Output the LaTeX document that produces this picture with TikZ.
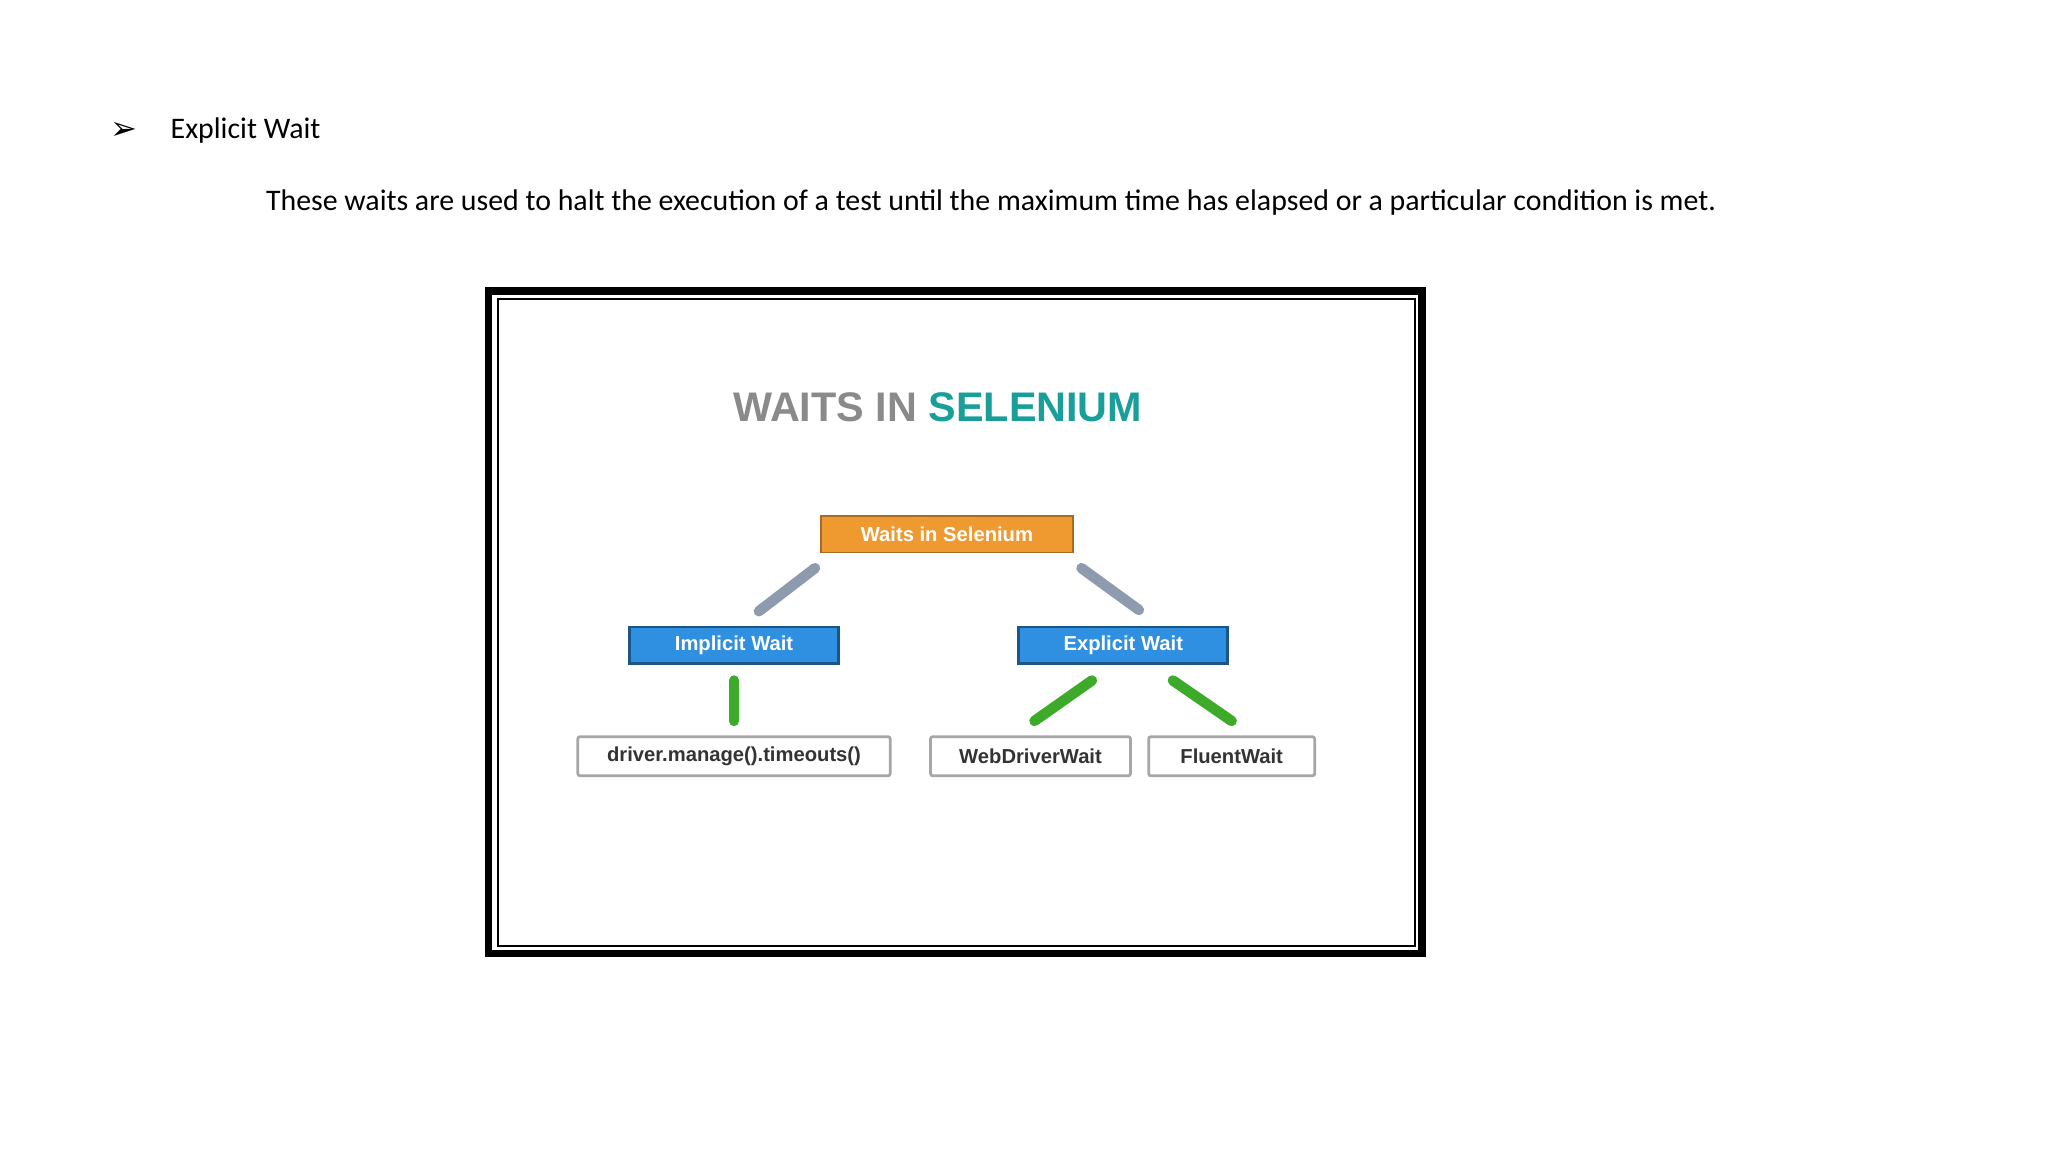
\documentclass[tikz,border=0pt]{standalone}
\usepackage{fontspec}
\setmainfont{Carlito}
\newfontfamily\dv{DejaVu Sans}
\newfontfamily\lsans{Liberation Sans}
\definecolor{teal1}{HTML}{1A9E9A}
\definecolor{grayt}{HTML}{8A8A8A}
\definecolor{orng}{HTML}{EE9A30}
\definecolor{blu}{HTML}{2F8FE0}
\definecolor{grn}{HTML}{3DAA2A}
\definecolor{stk}{HTML}{8E9AAE}
\tikzset{
 px/.style={x=0.01cm,y=-0.01cm},
 box/.style={rectangle,minimum height=0.28cm,inner sep=0pt,font=\lsans\bfseries\fontsize{4.4}{5}\selectfont,text=white},
 obox/.style={box,fill=orng,draw=orng!70!black},
 bbox/.style={box,fill=blu,draw=blu!60!black,line width=0.6pt},
 wbox/.style={box,fill=white,draw=gray!70,line width=0.6pt,text=black!80,minimum height=0.3cm,rounded corners=0.5pt},
 stick/.style={line width=0.08cm,line cap=round},
}
\begin{document}
\begin{tikzpicture}[px]
\useasboundingbox (0,0) rectangle (1568,882);
\node[anchor=center,font=\dv\bfseries\fontsize{7}{8}\selectfont] (bul) at (95,100) {➢};
\node[anchor=west,inner sep=0pt,font=\fontsize{6.5}{8}\selectfont] (h) at (130,100) {Explicit Wait};
\node[anchor=west,inner sep=0pt,font=\fontsize{6.5}{8}\selectfont] (t) at (203,155) {These waits are used to halt the execution of a test until the maximum time has elapsed or a particular condition is met.};
\draw[line width=0.06cm] (374,223) rectangle (1089,730);
\draw[line width=0.015cm] (381,229) rectangle (1083,724);
\node[font=\lsans\bfseries\fontsize{9}{10}\selectfont] (title) at (718,312) {\textcolor{grayt}{WAITS IN} \textcolor{teal1}{SELENIUM}};
\node[obox,minimum width=1.93cm] (w) at (725,409) {Waits in Selenium};
\node[bbox,minimum width=1.6cm] (iw) at (562,494) {Implicit Wait};
\node[bbox,minimum width=1.6cm] (ew) at (860,494) {Explicit Wait};
\node[wbox,minimum width=2.39cm] (d) at (562,579) {driver.manage().timeouts()};
\node[wbox,minimum width=1.53cm] (wd) at (789,579) {WebDriverWait};
\node[wbox,minimum width=1.27cm] (fw) at (943,579) {FluentWait};
\coordinate (a1) at (624,435); \coordinate (a2) at (581,468);
\coordinate (b1) at (828,435); \coordinate (b2) at (872,467);
\coordinate (c1) at (562,521); \coordinate (c2) at (562,552);
\coordinate (e1) at (836,521); \coordinate (e2) at (792,552);
\coordinate (f1) at (898,521); \coordinate (f2) at (943,552);
\draw[stick,stk] (a1) -- (a2);
\draw[stick,stk] (b1) -- (b2);
\draw[stick,grn] (c1) -- (c2);
\draw[stick,grn] (e1) -- (e2);
\draw[stick,grn] (f1) -- (f2);
\end{tikzpicture}
\end{document}
